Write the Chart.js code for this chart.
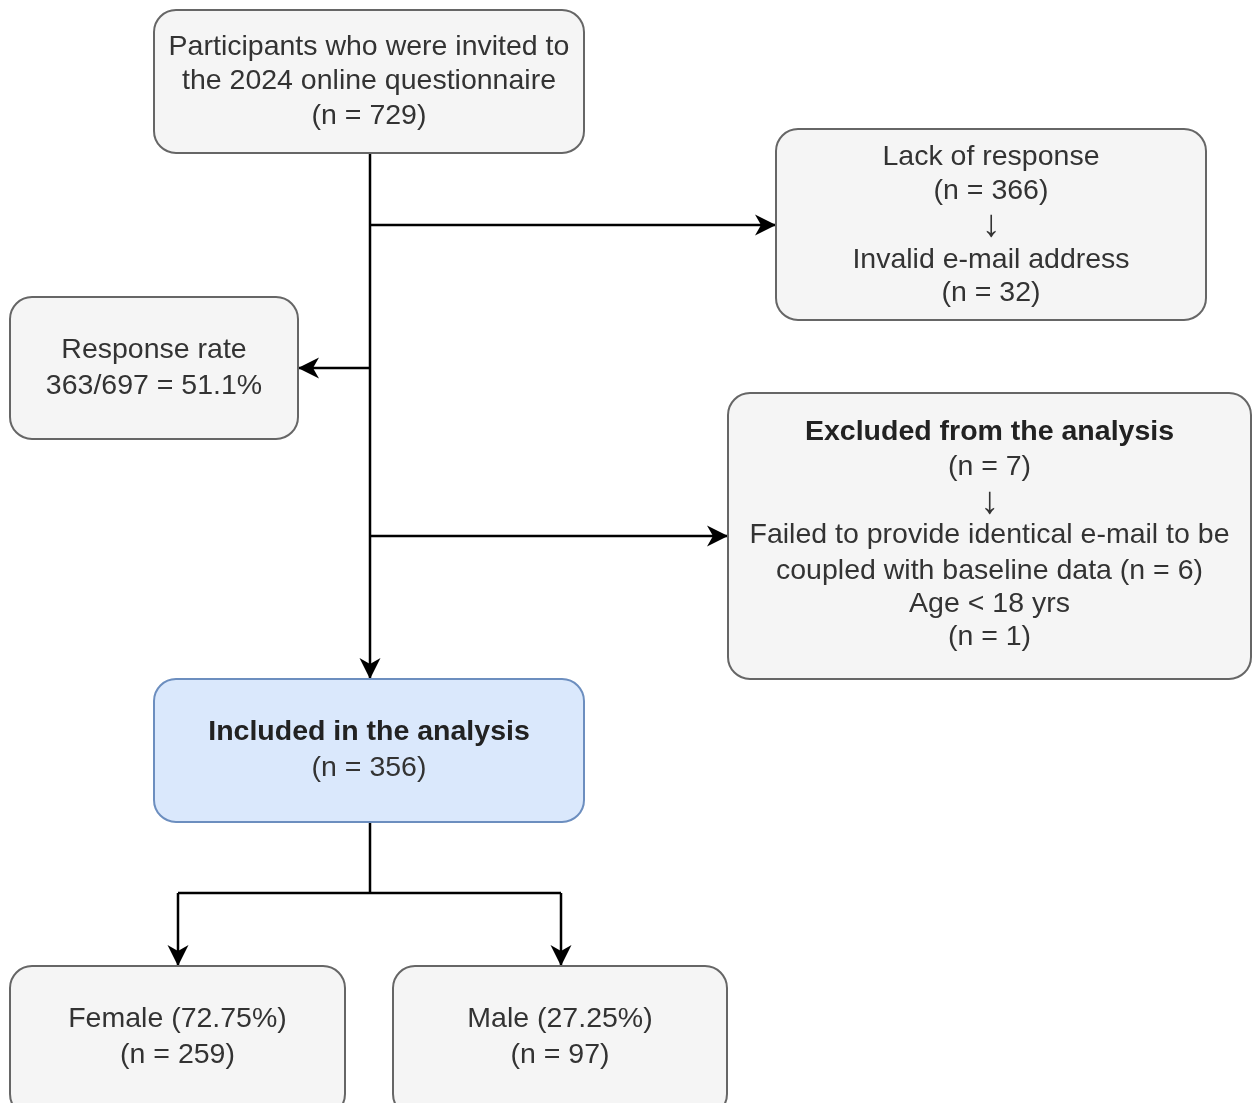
<!DOCTYPE html>
<html>
<head>
<meta charset="utf-8">
<title>Participant flow</title>
<script src="https://cdn.jsdelivr.net/npm/chart.js@4"></script>
<style>
    html, body { margin: 0; padding: 0; background: #ffffff; }
    #wrap { position: relative; width: 1254px; height: 1103px; }
</style>
</head>
<body>
<div id="wrap"><canvas id="flowChart"></canvas></div>
<script>
// flow.js: participant flow diagram drawn on a Chart.js scatter canvas

// Counts
const invitedCount = 729;
const noResponseCount = 366;
const invalidEmailCount = 32;
const respondedCount = 363;
const eligibleCount = 697;
const responseRatePct = 51.1;
const excludedCount = 7;
const noEmailMatchCount = 6;
const underageCount = 1;
const includedCount = 356;
const sexLabels = ['Female', 'Male'];
const sexCounts = [259, 97];
const sexPercents = [72.75, 27.25];

// Box texts (a leading '*' marks a bold line)
const boxTexts = {
    invited: ['Participants who were invited to', 'the 2024 online questionnaire', `(n = ${invitedCount})`],
    noResponse: ['Lack of response', `(n = ${noResponseCount})`, '↓', 'Invalid e-mail address', `(n = ${invalidEmailCount})`],
    rate: ['Response rate', `${respondedCount}/${eligibleCount} = ${responseRatePct}%`],
    excluded: ['*Excluded from the analysis', `(n = ${excludedCount})`, '↓', 'Failed to provide identical e-mail to be',
        `coupled with baseline data (n = ${noEmailMatchCount})`, 'Age < 18 yrs', `(n = ${underageCount})`],
    included: ['*Included in the analysis', `(n = ${includedCount})`],
    female: [`${sexLabels[0]} (${sexPercents[0]}%)`, `(n = ${sexCounts[0]})`],
    male: [`${sexLabels[1]} (${sexPercents[1]}%)`, `(n = ${sexCounts[1]})`]
};

// ---- layout (canvas units, y grows downward) ----
const boxRects = {
    invited:    { x0: 154, y0: 10,  x1: 584,  y1: 153, lines: [47, 81, 116] },
    noResponse: { x0: 776, y0: 129, x1: 1206, y1: 320, lines: [157, 191, 226, 260, 293] },
    rate:       { x0: 10,  y0: 297, x1: 298,  y1: 439, lines: [350, 386] },
    excluded:   { x0: 728, y0: 393, x1: 1251, y1: 679, lines: [432, 467, 503, 535, 571, 604, 637] },
    included:   { x0: 154, y0: 679, x1: 584,  y1: 822, lines: [732, 768], blue: true },
    female:     { x0: 10,  y0: 966, x1: 345,  y1: 1116, lines: [1019, 1055] },
    male:       { x0: 393, y0: 966, x1: 727,  y1: 1116, lines: [1019, 1055] }
};

const connectors = [
    { pts: [[370, 153], [370, 679]], arrow: true },
    { pts: [[370, 225], [776, 225]], arrow: true },
    { pts: [[370, 368], [298, 368]], arrow: true },
    { pts: [[370, 536], [728, 536]], arrow: true },
    { pts: [[370, 822], [370, 893]], arrow: false },
    { pts: [[178, 893], [561, 893]], arrow: false },
    { pts: [[178, 893], [178, 966]], arrow: true },
    { pts: [[561, 893], [561, 966]], arrow: true }
];

const FONT_FAMILY = '"Liberation Sans", Arial, Helvetica, sans-serif';

// Helper: rounded rectangle path
function roundRect(ctx, x0, y0, x1, y1, r) {
    ctx.beginPath();
    ctx.moveTo(x0 + r, y0);
    ctx.lineTo(x1 - r, y0);
    ctx.arcTo(x1, y0, x1, y0 + r, r);
    ctx.lineTo(x1, y1 - r);
    ctx.arcTo(x1, y1, x1 - r, y1, r);
    ctx.lineTo(x0 + r, y1);
    ctx.arcTo(x0, y1, x0, y1 - r, r);
    ctx.lineTo(x0, y0 + r);
    ctx.arcTo(x0, y0, x0 + r, y0, r);
    ctx.closePath();
}

// Plugin: arrow heads at the end of connector datasets
const arrowPlugin = {
    id: 'arrowHeads',
    afterDatasetsDraw(chart) {
        const ctx = chart.ctx;
        chart.data.datasets.forEach((ds, i) => {
            if (!ds.arrow) return;
            const pts = chart.getDatasetMeta(i).data;
            const a = pts[pts.length - 2], b = pts[pts.length - 1];
            const ang = Math.atan2(b.y - a.y, b.x - a.x);
            const len = 21, half = 10.5, notch = 6;
            ctx.save();
            ctx.translate(b.x, b.y);
            ctx.rotate(ang);
            ctx.beginPath();
            ctx.moveTo(0, 0);
            ctx.lineTo(-len, -half);
            ctx.lineTo(-len + notch, 0);
            ctx.lineTo(-len, half);
            ctx.closePath();
            ctx.fillStyle = '#000000';
            ctx.fill();
            ctx.restore();
        });
    }
};

// Plugin: boxes and their text
const boxPlugin = {
    id: 'flowBoxes',
    afterDatasetsDraw(chart) {
        const ctx = chart.ctx;
        const xs = chart.scales.x, ys = chart.scales.y;
        Object.keys(boxRects).forEach(key => {
            const r = boxRects[key];
            const x0 = xs.getPixelForValue(r.x0), x1 = xs.getPixelForValue(r.x1);
            const y0 = ys.getPixelForValue(r.y0), y1 = ys.getPixelForValue(r.y1);
            ctx.save();
            roundRect(ctx, x0, y0, x1, y1, 22);
            ctx.fillStyle = r.blue ? '#dae8fc' : '#f5f5f5';
            ctx.fill();
            ctx.lineWidth = 2;
            ctx.strokeStyle = r.blue ? '#6c8ebf' : '#666666';
            ctx.stroke();

            ctx.textAlign = 'center';
            ctx.textBaseline = 'middle';
            const cx = (x0 + x1) / 2;
            boxTexts[key].forEach((line, j) => {
                const ty = ys.getPixelForValue(r.lines[j]);
                let txt = line;
                let bold = false;
                if (txt.startsWith('*')) { bold = true; txt = txt.slice(1); }
                // the down arrow glyph is set larger so it fills the line like in the original
                const size = txt === '↓' ? 38 : 28.5;
                ctx.font = (bold ? 'bold ' : '') + size + 'px ' + FONT_FAMILY;
                ctx.fillStyle = bold ? '#222222' : '#333333';
                ctx.fillText(txt, cx, ty);
            });
            ctx.restore();
        });
    }
};

function createFlowChart() {
    const ctx = document.getElementById('flowChart').getContext('2d');
    new Chart(ctx, {
        type: 'scatter',
        data: {
            datasets: connectors.map(c => ({
                data: c.pts.map(p => ({ x: p[0], y: p[1] })),
                showLine: true,
                borderColor: '#000000',
                borderWidth: 2.5,
                pointRadius: 0,
                tension: 0,
                clip: false,
                arrow: c.arrow
            }))
        },
        options: {
            responsive: true,
            maintainAspectRatio: false,
            animation: false,
            layout: { padding: 0 },
            scales: {
                x: { type: 'linear', min: 0, max: 1254, display: false },
                y: { type: 'linear', min: 0, max: 1103, reverse: true, display: false }
            },
            plugins: {
                legend: { display: false },
                tooltip: { enabled: false }
            }
        },
        plugins: [arrowPlugin, boxPlugin]
    });
}

createFlowChart();
</script>
</body>
</html>
